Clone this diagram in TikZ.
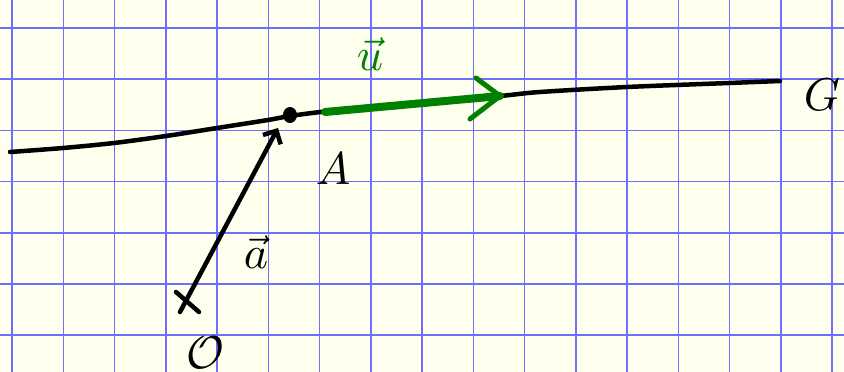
\documentclass[tikz,border=0pt]{standalone}
\usepackage{amsmath}
\usepackage{tikz}
\usetikzlibrary{arrows.meta, calc}
\definecolor{paper}{RGB}{255,255,238}
\definecolor{gridblue}{RGB}{110,110,255}
\definecolor{inkgreen}{RGB}{0,128,0}

\tikzset{
  ink/.style={line width=4.5pt, line cap=round, line join=round},
  gink/.style={inkgreen, line width=5pt, line cap=round, line join=round},
  handlabel/.style={scale=4.6, anchor=base, inner sep=0pt}
}

\begin{document}
\begin{tikzpicture}[x=1pt, y=-1pt, >=Stealth]
  % Paper and squares
  \useasboundingbox (0,0) rectangle (844,372);
  \fill[paper] (0,0) rectangle (844,372);
  \foreach \i in {0,...,16}
    \draw[gridblue, line width=1.5pt] (12+51.25*\i,0) -- ++(0,372);
  \foreach \j in {0,...,6}
    \draw[gridblue, line width=1.5pt] (0,28+51.2*\j) -- ++(844,0);

  % Points
  \coordinate (O) at (187,300);
  \coordinate (A) at (290,115);
  \coordinate (atip) at (278,128);
  \coordinate (u0) at (325,112);
  \coordinate (u1) at (500,96);

  % Line G
  \draw[ink] plot[smooth] coordinates {(10,152) (63,148) (114,143) (166,136)
    (217,128) (268,120) (290,116) (330,111) (420,103) (500,96) (540,92)
    (627,87) (729,83) (780,81)};
  \fill (A) ellipse (7pt and 8pt);

  % Origin cross
  \draw[ink] ($(O)+(-11,-8)$) -- ($(O)+(12,12)$);

  % Vector a
  \draw[ink, -{Straight Barb[length=10pt, width=20pt]}] ($(O)+(-7,12)$) -- (atip);

  % Vector u
  \draw[inkgreen, line width=8pt, line cap=round] (u0) -- (u1);
  \draw[gink] (476,78) -- (u1) -- (470,119);

  % Labels
  \node[handlabel, inkgreen] (ulab) at (370,70) {$\vec{u}$};
  \node[handlabel] (Alab) at (333,184) {$A$};
  \node[handlabel] (alab) at (256,268) {$\vec{a}$};
  \node[handlabel, anchor=base west] (Glab) at (803,110) {$G$};
  \node[handlabel, anchor=base west] (Olab) at (186,368) {$\mathcal{O}$};
\end{tikzpicture}
\end{document}
